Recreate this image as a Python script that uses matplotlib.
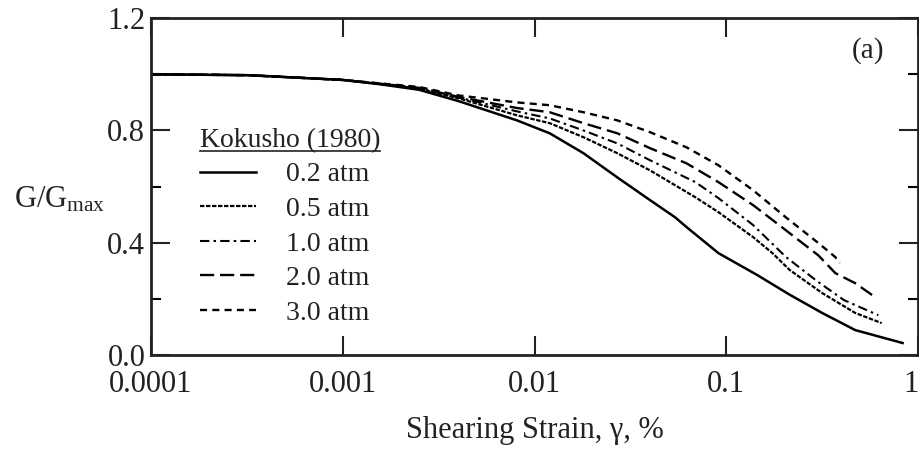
import matplotlib
matplotlib.use("Agg")
import matplotlib.pyplot as plt
from matplotlib.lines import Line2D

plt.rcParams['font.family'] = ['Liberation Serif', 'DejaVu Serif']
plt.rcParams['mathtext.fontset'] = 'custom'
plt.rcParams['mathtext.rm'] = 'Liberation Serif'

TXT = '#222222'

# ---- data (strain in %, G/Gmax) ----
strain_02 = [0.0001, 0.00032, 0.001, 0.00155, 0.0025, 0.004, 0.0081, 0.012, 0.018, 0.027, 0.040, 0.054, 0.062, 0.091, 0.145, 0.214, 0.316, 0.47, 0.83]
g_02 = [1.0, 0.997, 0.98, 0.965, 0.945, 0.905, 0.836, 0.79, 0.719, 0.633, 0.552, 0.491, 0.456, 0.363, 0.285, 0.215, 0.150, 0.089, 0.043]

strain_05 = [0.0001, 0.00032, 0.001, 0.00155, 0.0025, 0.004, 0.0081, 0.012, 0.018, 0.027, 0.040, 0.069, 0.091, 0.138, 0.174, 0.214, 0.316, 0.47, 0.645]
g_05 = [1.0, 0.997, 0.98, 0.966, 0.948, 0.915, 0.854, 0.826, 0.776, 0.719, 0.658, 0.562, 0.509, 0.42, 0.363, 0.303, 0.221, 0.150, 0.114]

strain_10 = [0.0001, 0.00032, 0.001, 0.00155, 0.0025, 0.004, 0.0081, 0.012, 0.018, 0.027, 0.040, 0.069, 0.091, 0.138, 0.204, 0.295, 0.41, 0.62]
g_10 = [1.0, 0.997, 0.98, 0.966, 0.95, 0.918, 0.868, 0.843, 0.80, 0.754, 0.694, 0.616, 0.559, 0.463, 0.35, 0.265, 0.196, 0.142]

strain_20 = [0.0001, 0.00032, 0.001, 0.00155, 0.0025, 0.004, 0.0081, 0.012, 0.018, 0.027, 0.040, 0.062, 0.091, 0.138, 0.204, 0.302, 0.37, 0.47, 0.575]
g_20 = [1.0, 0.997, 0.98, 0.967, 0.952, 0.92, 0.88, 0.865, 0.826, 0.79, 0.737, 0.683, 0.616, 0.534, 0.445, 0.355, 0.292, 0.256, 0.214]

strain_30 = [0.0001, 0.00032, 0.001, 0.00155, 0.0025, 0.004, 0.0081, 0.012, 0.018, 0.027, 0.040, 0.062, 0.091, 0.138, 0.204, 0.302, 0.37, 0.39]
g_30 = [1.0, 0.997, 0.98, 0.968, 0.955, 0.925, 0.9, 0.89, 0.865, 0.836, 0.794, 0.74, 0.676, 0.587, 0.491, 0.399, 0.349, 0.328]

labels = ['0.2 atm', '0.5 atm', '1.0 atm', '2.0 atm', '3.0 atm']
xtick_vals = [0.0001, 0.001, 0.01, 0.1, 1]
xtick_labels = ['0.0001', '0.001', '0.01', '0.1', '1']
ytick_vals = [0.0, 0.4, 0.8, 1.2]
ytick_labels = ['0.0', '0.4', '0.8', '1.2']
ytick_minor = [0.2, 0.6, 1.0]

series = [(strain_02, g_02), (strain_05, g_05), (strain_10, g_10), (strain_20, g_20), (strain_30, g_30)]
styles = [
    dict(ls='-', lw=1.8),
    dict(ls=(0, (2.0, 0.7)), lw=1.6),
    dict(ls=(0, (4.5, 2.0, 1.2, 2.0)), lw=1.5),
    dict(ls=(0, (6.0, 2.5)), lw=1.7),
    dict(ls=(0, (3.0, 2.2)), lw=1.7),
]

fig = plt.figure(figsize=(9.2, 4.66), dpi=100)
ax = fig.add_axes([0.164, 0.238, 0.834, 0.723])

for (s, g), st, lab in zip(series, styles, labels):
    ax.plot(s, g, color='black', label=lab, solid_joinstyle='round', **st)

ax.set_xscale('log')
ax.set_xlim(1e-4, 1)
ax.set_ylim(0, 1.2)
ax.set_xticks(xtick_vals)
ax.set_xticklabels(xtick_labels)
ax.xaxis.set_minor_locator(matplotlib.ticker.NullLocator())
ax.set_yticks(ytick_vals)
ax.set_yticklabels(ytick_labels)
ax.set_yticks(ytick_minor, minor=True)
ax.get_xticklabels()[-1].set_horizontalalignment('right')

for sp in ax.spines.values():
    sp.set_linewidth(2.0)
    sp.set_color('#222222')

ax.tick_params(axis='both', which='major', direction='in', length=14, width=1.5,
               labelsize=22, colors=TXT, top=True, right=True)
ax.tick_params(axis='x', which='major', pad=11)
ax.tick_params(axis='y', which='major', pad=4)
ax.tick_params(axis='y', which='minor', direction='in', length=7, width=1.5,
               right=True, left=True)

ax.set_xlabel('Shearing Strain, \u03b3, %', fontsize=22, color=TXT, labelpad=12)
ax.set_ylabel(r'$\mathregular{G/G_{max}}$', fontsize=22, color=TXT, rotation=0,
              ha='center', va='center')
ax.yaxis.set_label_coords(-0.119, 0.46)

ax.text(0.935, 0.905, '(a)', transform=ax.transAxes, fontsize=21, color=TXT,
        ha='center', va='center')

leg = ax.legend(loc='upper left', bbox_to_anchor=(0.064, 0.675), frameon=False,
                title='Kokusho (1980)', fontsize=20, title_fontsize=20,
                handlelength=2.0, handletextpad=1.1, labelspacing=0.33,
                borderpad=0, borderaxespad=0, alignment='left')
for t in leg.get_texts():
    t.set_color(TXT)
leg.get_title().set_color(TXT)

fig.canvas.draw()
bb = leg.get_title().get_window_extent().transformed(fig.transFigure.inverted())
fig.add_artist(Line2D([bb.x0, bb.x1], [bb.y0 + 0.004, bb.y0 + 0.004],
                      transform=fig.transFigure, color='#222222', lw=1.2))

fig.savefig('out.png', dpi=100)
